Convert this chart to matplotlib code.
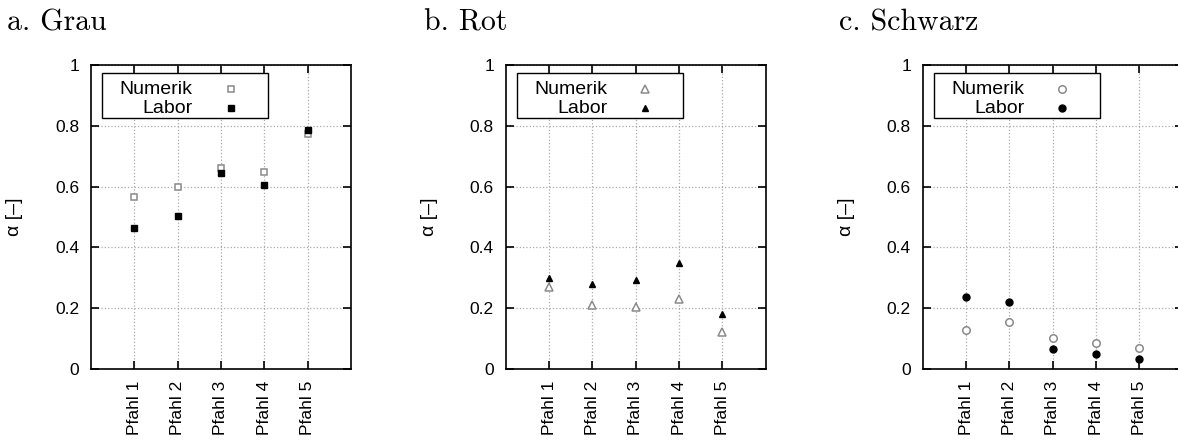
import matplotlib
matplotlib.use("Agg")
import matplotlib.pyplot as plt
from matplotlib.patches import Rectangle

plt.rcParams["font.family"] = ["Liberation Sans", "DejaVu Sans"]

# Pfahl positions and labels
pfahl = ["Pfahl 1", "Pfahl 2", "Pfahl 3", "Pfahl 4", "Pfahl 5"]
xpos = [1, 2, 3, 4, 5]

# alpha values per pile, numerical vs. lab
grau_numerik = [0.567, 0.600, 0.660, 0.649, 0.772]
grau_labor = [0.465, 0.504, 0.644, 0.604, 0.788]
rot_numerik = [0.269, 0.209, 0.205, 0.230, 0.121]
rot_labor = [0.301, 0.279, 0.293, 0.348, 0.181]
schwarz_numerik = [0.128, 0.156, 0.101, 0.085, 0.068]
schwarz_labor = [0.238, 0.220, 0.065, 0.050, 0.033]

titles = ["a. Grau", "b. Rot", "c. Schwarz"]
# (numerik, labor, marker, size open, size filled)
panels = [
    (grau_numerik, grau_labor, "s", 5.0, 4.6),
    (rot_numerik, rot_labor, "^", 5.2, 5.0),
    (schwarz_numerik, schwarz_labor, "o", 5.4, 5.0),
]

fig = plt.figure(figsize=(11.78, 4.41), dpi=100)
lefts = [0.0772, 0.4293, 0.7833]
title_x = [0.006, 0.360, 0.712]

for i, (num, lab, mk, ms_open, ms_fill) in enumerate(panels):
    ax = fig.add_axes([lefts[i], 0.1633, 0.2207, 0.689])
    ax.plot(xpos, num, linestyle="none", marker=mk, markersize=ms_open,
            markerfacecolor="white", markeredgecolor="#8a8a8a",
            markeredgewidth=1.1, zorder=3)
    ax.plot(xpos, lab, linestyle="none", marker=mk, markersize=ms_fill,
            color="black", zorder=3)

    ax.set_xlim(0, 6)
    ax.set_ylim(0, 1)
    ax.set_xticks(xpos)
    ax.set_xticklabels(pfahl, rotation=90, fontsize=12.5)
    ax.set_yticks([0, 0.2, 0.4, 0.6, 0.8, 1])
    ax.set_yticklabels(["0", "0.2", "0.4", "0.6", "0.8", "1"], fontsize=12.5)
    ax.tick_params(direction="in", top=True, right=True, length=6,
                   width=1.2, pad=8.5)
    for sp in ax.spines.values():
        sp.set_linewidth(1.2)
    ax.grid(True, linestyle=":", color="#aaaaaa", linewidth=0.9)
    ax.set_axisbelow(True)

    ax.set_ylabel("α [–]", fontsize=14)
    ax.yaxis.set_label_coords(-0.262, 0.5)

    # gnuplot-style key: label right-aligned, symbol after it
    ax.add_patch(Rectangle((0.042, 0.826), 0.64, 0.148, transform=ax.transAxes,
                           facecolor="white", edgecolor="black",
                           linewidth=1.0, zorder=5))
    ax.text(0.392, 0.921, "Numerik", transform=ax.transAxes, ha="right",
            va="center", fontsize=14, zorder=6)
    ax.text(0.392, 0.858, "Labor", transform=ax.transAxes, ha="right",
            va="center", fontsize=14, zorder=6)
    ax.plot([0.537], [0.921], transform=ax.transAxes, marker=mk,
            markersize=ms_open, markerfacecolor="white",
            markeredgecolor="#8a8a8a", markeredgewidth=1.1, zorder=6,
            clip_on=False)
    ax.plot([0.537], [0.858], transform=ax.transAxes, marker=mk,
            markersize=ms_fill, color="black", zorder=6, clip_on=False)

    fig.text(title_x[i], 0.93, titles[i], fontsize=21.5, va="baseline",
             family=["cmr10", "DejaVu Serif"])

fig.savefig("out.png", dpi=100)
